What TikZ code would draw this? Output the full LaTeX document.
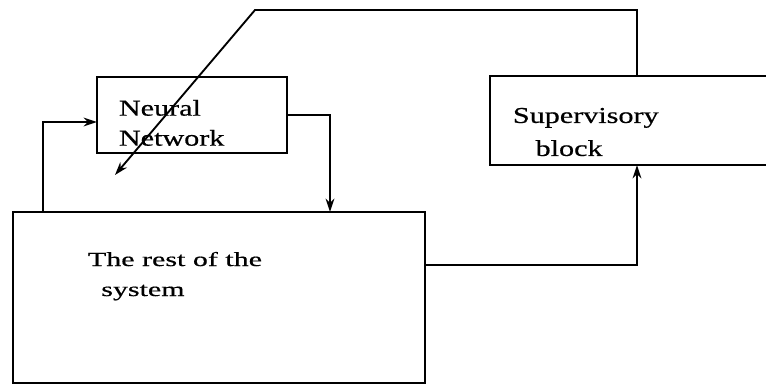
\documentclass[tikz,border=0pt]{standalone}
\usepackage{fontspec}
\setmainfont{Liberation Serif}
\newfontfamily\wideA[FakeStretch=1.33, FakeBold=0.6]{Liberation Serif}
\newfontfamily\wideB[FakeStretch=1.5, FakeBold=0.6]{Liberation Serif}
\usetikzlibrary{arrows.meta, positioning}

\begin{document}
\begin{tikzpicture}[x=0.75pt, y=-0.75pt, >={Stealth[length=10pt, width=6.5pt]}, line width=1.4pt,
    block/.style={draw, rectangle, inner sep=0pt},
    txt/.style={anchor=north west, align=left, inner sep=0pt}]
\useasboundingbox (0,0) rectangle (766,384);

% blocks
\node [block, minimum width=142.5pt, minimum height=57pt] (nn) at (192,115) {};
\node [block, minimum width=309pt, minimum height=128.25pt] (rest) at (219,297.5) {};
\node [block, minimum width=240pt, minimum height=66.75pt] (sup) at (650,120.5) {};

% texts
\node [txt, font=\wideA\fontsize{17}{22.5}\selectfont] (nntext) at (118,99) {Neural\\Network};
\node [txt, font=\wideA\fontsize{17}{24.75}\selectfont] (suptext) at (512,107) {Supervisory\\\hspace*{17pt}block};
\node [txt, font=\wideB\fontsize{15}{22.5}\selectfont] (resttext) at (87,251) {The rest of the\\\hspace*{10pt}system};

% connection points
\coordinate (restL) at (43,212);
\coordinate (nnL) at (97,122);
\coordinate (nnR) at (287,115);
\coordinate (restT) at (330,212);
\coordinate (restR) at (425,265);
\coordinate (supB) at (637,165);
\coordinate (supT) at (637,76);
\coordinate (fb) at (255,10);
\coordinate (adj) at (115,175);

\draw [->] (restL) |- (nnL);
\draw [->] (nnR) -| (restT);
\draw [->] (restR) -| (supB);
\draw [->] (supT) |- (fb) -- (adj);

\end{tikzpicture}
\end{document}
